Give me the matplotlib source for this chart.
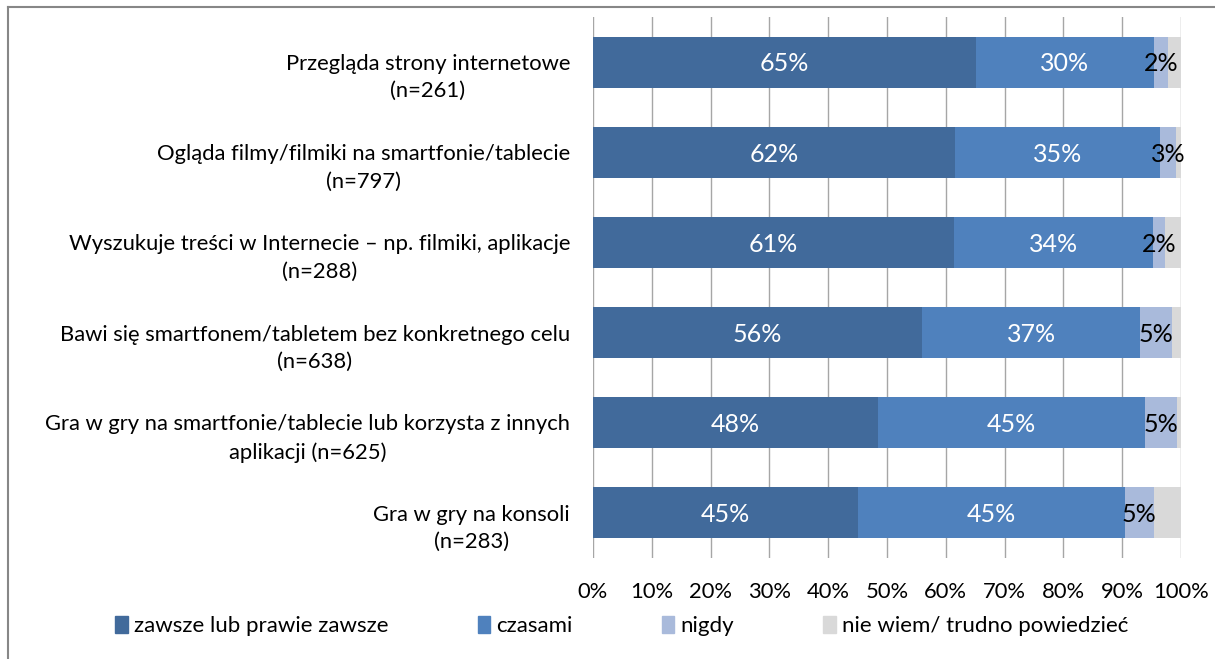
import numpy as np
import matplotlib
matplotlib.use("Agg")
import matplotlib.pyplot as plt
from matplotlib.lines import Line2D
from matplotlib.transforms import ScaledTranslation

plt.rcParams['font.family'] = ['Lato', 'DejaVu Sans']

# kategorie (od gory)
categories = [
    "Przegląda strony internetowe\n(n=261)",
    "Ogląda filmy/filmiki na smartfonie/tablecie\n(n=797)",
    "Wyszukuje treści w Internecie – np. filmiki, aplikacje\n(n=288)",
    "Bawi się smartfonem/tabletem bez konkretnego celu\n(n=638)",
    "Gra w gry na smartfonie/tablecie lub korzysta z innych\naplikacji (n=625)",
    "Gra w gry na konsoli\n(n=283)",
]

series_names = ["zawsze lub prawie zawsze", "czasami", "nigdy", "nie wiem/ trudno powiedzieć"]

# wartosci w procentach
zawsze = [65.1, 61.6, 61.4, 56.0, 48.5, 45.1]
czasami = [30.3, 34.9, 33.8, 37.1, 45.4, 45.3]
nigdy = [2.4, 2.6, 2.1, 5.4, 5.4, 5.0]
nie_wiem = [2.2, 0.9, 2.7, 1.5, 0.7, 4.6]

colors = ["#416A9B", "#4F81BD", "#A9BADB", "#D9D9D9"]
label_colors = ["white", "white", "black", None]

W, H = 1215, 659
fig = plt.figure(figsize=(W / 100, H / 100), dpi=100)
ax = fig.add_axes([593 / W, 1 - 558 / H, (1181 - 593) / W, (558 - 17) / H])

y = np.arange(len(categories))
left = np.zeros(len(categories))
for vals, name, col, lcol in zip([zawsze, czasami, nigdy, nie_wiem], series_names, colors, label_colors):
    vals = np.array(vals)
    ax.barh(y, vals, left=left, height=0.565, color=col, label=name, zorder=3)
    if lcol is not None:
        for yi, l, v in zip(y, left, vals):
            ax.text(l + v / 2, yi + 0.02, f"{v:.0f}%", ha="center", va="center",
                    color=lcol, fontsize=18, zorder=4)
    left += vals

ax.set_xlim(0, 100)
ax.set_ylim(len(categories) - 0.5, -0.5)
ax.set_xticks(np.arange(0, 101, 10))
ax.set_xticklabels([f"{t}%" for t in range(0, 101, 10)])
ax.set_yticks(y)
ax.set_yticklabels(categories, multialignment="center", linespacing=1.45)
ax.tick_params(axis="both", length=0, labelsize=15.8, colors="black")
ax.tick_params(axis="y", pad=16.5)
ax.tick_params(axis="x", pad=17)
# etykiety kategorii lekko ponizej srodka slupka, jak w oryginale
shift = ScaledTranslation(0, -0.1, fig.dpi_scale_trans)
for lbl in ax.get_yticklabels():
    lbl.set_transform(lbl.get_transform() + shift)
ax.grid(axis="x", color="#A6A6A6", linewidth=1, zorder=0)
for s in ax.spines.values():
    s.set_visible(False)

handles = [plt.Rectangle((0, 0), 1, 1, color=c) for c in colors]
fig.legend(handles, series_names, loc="center", bbox_to_anchor=(622 / W, 1 - 626 / H),
           ncol=4, frameon=False, fontsize=16, handlelength=0.55, handleheight=0.85,
           handletextpad=0.3, columnspacing=4.0)

# ramka wykresu
fig.add_artist(Line2D([8 / W, 1], [1 - 7 / H, 1 - 7 / H], color="#878787", linewidth=1.5))
fig.add_artist(Line2D([8 / W, 8 / W], [0, 1 - 7 / H], color="#878787", linewidth=1.5))

fig.savefig("out.png", dpi=100)
